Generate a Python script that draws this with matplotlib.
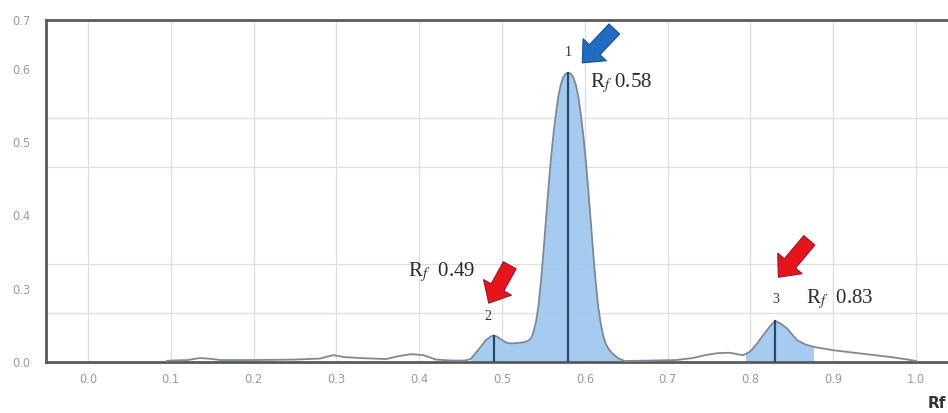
import numpy as np
import matplotlib
matplotlib.use("Agg")
import matplotlib.pyplot as plt

plt.rcParams["mathtext.fontset"] = "stix"

# Densitogram trace: Rf position vs. absorbance
rf = np.array([
    0.095, 0.100, 0.120, 0.135, 0.145, 0.160, 0.200, 0.250, 0.280, 0.296,
    0.310, 0.330, 0.360, 0.375, 0.390, 0.405, 0.420, 0.440, 0.455,
    0.462, 0.471, 0.480, 0.486, 0.490, 0.494, 0.498, 0.506, 0.512, 0.520,
    0.528, 0.533, 0.536, 0.538, 0.541, 0.544, 0.547, 0.550, 0.553, 0.556,
    0.559, 0.562, 0.565, 0.568, 0.571, 0.574, 0.577, 0.580, 0.583, 0.586,
    0.589, 0.592, 0.595, 0.598, 0.601, 0.604, 0.607, 0.610, 0.613, 0.616,
    0.619, 0.622, 0.625, 0.629, 0.634, 0.641, 0.648,
    0.680, 0.710, 0.730, 0.745, 0.760, 0.775, 0.790, 0.794, 0.800,
    0.808, 0.814, 0.820, 0.825, 0.830, 0.836, 0.844, 0.850, 0.856, 0.866,
    0.876, 0.900, 0.940, 0.970, 0.990, 1.000,
])
absorb = np.array([
    0.002, 0.003, 0.004, 0.008, 0.007, 0.004, 0.004, 0.005, 0.007, 0.014,
    0.010, 0.008, 0.006, 0.012, 0.016, 0.014, 0.005, 0.003, 0.003,
    0.006, 0.024, 0.044, 0.052, 0.054, 0.052, 0.047, 0.039, 0.038, 0.039,
    0.041, 0.045, 0.052, 0.062, 0.082, 0.115, 0.165, 0.225, 0.290, 0.355,
    0.415, 0.465, 0.508, 0.544, 0.568, 0.583, 0.590, 0.592, 0.590, 0.583,
    0.568, 0.544, 0.508, 0.465, 0.415, 0.355, 0.290, 0.225, 0.165, 0.115,
    0.080, 0.055, 0.038, 0.026, 0.016, 0.007, 0.002,
    0.003, 0.004, 0.008, 0.014, 0.018, 0.019, 0.014, 0.016, 0.022,
    0.038, 0.052, 0.065, 0.076, 0.084, 0.079, 0.069, 0.057, 0.045, 0.036,
    0.031, 0.024, 0.016, 0.010, 0.005, 0.002,
])

# Integrated bands
bands = [(0.462, 0.648), (0.794, 0.876)]

# Peaks: number, Rf, height
peak_ids = ["1", "2", "3"]
peak_rf = [0.58, 0.49, 0.83]
peak_height = [0.592, 0.054, 0.084]

x_ticks = [0.0, 0.1, 0.2, 0.3, 0.4, 0.5, 0.6, 0.7, 0.8, 0.9, 1.0]
x_tick_labels = ["0.0", "0.1", "0.2", "0.3", "0.4", "0.5", "0.6", "0.7", "0.8", "0.9", "1.0"]
y_tick_pos = [0.0, 0.15, 0.3, 0.45, 0.6, 0.7]
y_tick_labels = ["0.0", "0.3", "0.4", "0.5", "0.6", "0.7"]
y_grid = [0.1, 0.2, 0.3, 0.4, 0.5, 0.6]

fig = plt.figure(figsize=(9.48, 4.13), dpi=100)
ax = fig.add_axes([46 / 948, 51 / 413, 914 / 948, 342 / 413])
ax.set_xlim(-0.0507, 1.053)
ax.set_ylim(0, 0.7)

# grid
ax.set_xticks(x_ticks)
ax.set_xticklabels(x_tick_labels)
ax.set_yticks(y_tick_pos)
ax.set_yticklabels(y_tick_labels)
ax.set_yticks(y_grid, minor=True)
ax.tick_params(axis="both", which="both", length=0, colors="#9a9a9a", labelsize=8.3)
ax.tick_params(axis="y", pad=11)
ax.tick_params(axis="x", pad=8)
ax.grid(True, axis="x", which="major", color="#dedede", lw=0.9)
ax.grid(True, axis="y", which="minor", color="#dedede", lw=0.9)
ax.set_axisbelow(True)

for side in ("left", "bottom", "top"):
    ax.spines[side].set_color("#5a5a5a")
    ax.spines[side].set_linewidth(2.0)
ax.spines["right"].set_visible(False)

# shaded peak bands
for lo, hi in bands:
    m = (rf >= lo) & (rf <= hi)
    ax.fill_between(rf[m], 0, absorb[m], color="#9ec8ef", alpha=0.92, lw=0, zorder=2)

ax.plot(rf, absorb, color="#7e8894", lw=1.3, zorder=3)

# peak markers
for x, h in zip(peak_rf, peak_height):
    ax.plot([x, x], [0, h], color="#2a4868", lw=1.6, zorder=4)

serif = ["Liberation Serif", "DejaVu Serif"]

def px(dx):
    return dx / 828.0

def py(y):
    return (362 - y) / 490.0

# peak numbers
ax.text(peak_rf[0], py(52), peak_ids[0], ha="center", va="center", fontsize=10,
        color="#333333", family=serif, zorder=6)
ax.text(peak_rf[1] - px(6), py(316), peak_ids[1], ha="center", va="center", fontsize=10,
        color="#333333", family=serif, zorder=6)
ax.text(peak_rf[2], py(299), peak_ids[2], ha="center", va="center", fontsize=10,
        color="#333333", family=serif, zorder=6)

# Rf annotations
ax.text(peak_rf[0] + px(22), py(82), r"R$_{f}$ 0.58", ha="left", va="center",
        fontsize=15, color="#2a2a2a", family=serif, zorder=6)
ax.text(peak_rf[1] - px(86), py(272), r"R$_{f}$  0.49", ha="left", va="center",
        fontsize=15, color="#2a2a2a", family=serif, zorder=6)
ax.text(peak_rf[2] + px(31), py(299), r"R$_{f}$  0.83", ha="left", va="center",
        fontsize=15, color="#2a2a2a", family=serif, zorder=6)

# block arrows pointing at peaks
def block_arrow(tail, tip, fc, ec):
    ax.annotate("", xy=tip, xytext=tail,
                arrowprops=dict(arrowstyle="simple,head_length=1.3,head_width=2.3,tail_width=1.05",
                                fc=fc, ec=ec, lw=0.8, shrinkA=0, shrinkB=0,
                                mutation_scale=10),
                zorder=7)

block_arrow((peak_rf[0] + px(46), py(28)), (peak_rf[0] + px(14), py(62)), "#1f6cc0", "#1a4f8f")
block_arrow((peak_rf[1] + px(16), py(265)), (peak_rf[1] - px(5), py(303)), "#e8141b", "#8e1a3a")
block_arrow((peak_rf[2] + px(34), py(240)), (peak_rf[2] + px(3), py(277)), "#e8141b", "#8e1a3a")

# axis title at the lower right corner
fig.text(946 / 948, 1 - 403 / 413, "Rf", ha="right", va="center", fontsize=11,
         color="#333333", fontweight="bold")

fig.savefig("out.png", dpi=100)
